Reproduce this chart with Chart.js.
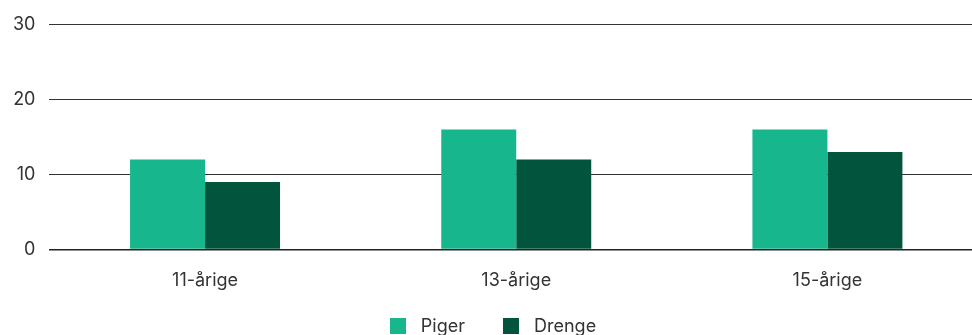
<!DOCTYPE html>
<html lang="da">
<head>
    <meta charset="UTF-8">
    <title>Piger og drenge</title>
    <script src="https://cdn.jsdelivr.net/npm/chart.js@4/dist/chart.umd.min.js"></script>
    <style>
        html, body {
            margin: 0;
            padding: 0;
            overflow: hidden;
            background: #fff;
        }
        .chart-box {
            position: relative;
            width: 983px;
            height: 335px;
        }
        #legend {
            position: absolute;
            left: 0;
            width: 986px;
            top: 316px;
            display: flex;
            justify-content: center;
            font-family: Inter, "Noto Sans", sans-serif;
            font-size: 18px;
            color: #333;
            line-height: 20px;
        }
        #legend .item {
            display: flex;
            align-items: center;
            margin: 0 19px;
        }
        #legend .swatch {
            width: 16px;
            height: 16px;
            margin-right: 15px;
        }
    </style>
</head>
<body>
    <div class="chart-box">
        <canvas id="chart"></canvas>
        <div id="legend"></div>
    </div>

    <script>
        const categories = ['11-årige', '13-årige', '15-årige'];
        const piger = [12, 16, 16];
        const drenge = [9, 12, 13];
        const yTicks = [0, 10, 20, 30];
        const seriesNames = ['Piger', 'Drenge'];
        const seriesColors = ['#17b68c', '#02543c'];

        Chart.defaults.font.family = 'Inter, "Noto Sans", sans-serif';
        Chart.defaults.font.size = 18;
        Chart.defaults.color = '#333';

        const chart = new Chart(document.getElementById('chart'), {
            type: 'bar',
            data: {
                labels: categories,
                datasets: [
                    { label: seriesNames[0], data: piger, backgroundColor: seriesColors[0] },
                    { label: seriesNames[1], data: drenge, backgroundColor: seriesColors[1] }
                ]
            },
            options: {
                responsive: true,
                maintainAspectRatio: false,
                animation: false,
                layout: { padding: { top: 8, left: -1, right: 0, bottom: 24 } },
                datasets: {
                    bar: { categoryPercentage: 0.482, barPercentage: 1 }
                },
                plugins: {
                    legend: { display: false },
                    tooltip: { enabled: false }
                },
                scales: {
                    x: {
                        grid: { display: false, drawTicks: false },
                        border: { display: false },
                        ticks: { padding: 20 }
                    },
                    y: {
                        min: 0,
                        max: 30,
                        afterBuildTicks: axis => { axis.ticks = yTicks.map(v => ({ value: v })); },
                        grid: {
                            color: ctx => ctx.tick && ctx.tick.value === 0 ? '#222' : '#333',
                            lineWidth: ctx => ctx.tick && ctx.tick.value === 0 ? 1.5 : 1,
                            drawTicks: false
                        },
                        border: { display: false },
                        ticks: { padding: 14 }
                    }
                }
            }
        });

        // legend built from the dataset labels and colours
        const legend = document.getElementById('legend');
        chart.data.datasets.forEach(ds => {
            const item = document.createElement('div');
            item.className = 'item';
            const sw = document.createElement('span');
            sw.className = 'swatch';
            sw.style.background = ds.backgroundColor;
            const txt = document.createElement('span');
            txt.textContent = ds.label;
            item.appendChild(sw);
            item.appendChild(txt);
            legend.appendChild(item);
        });
    </script>
</body>
</html>
